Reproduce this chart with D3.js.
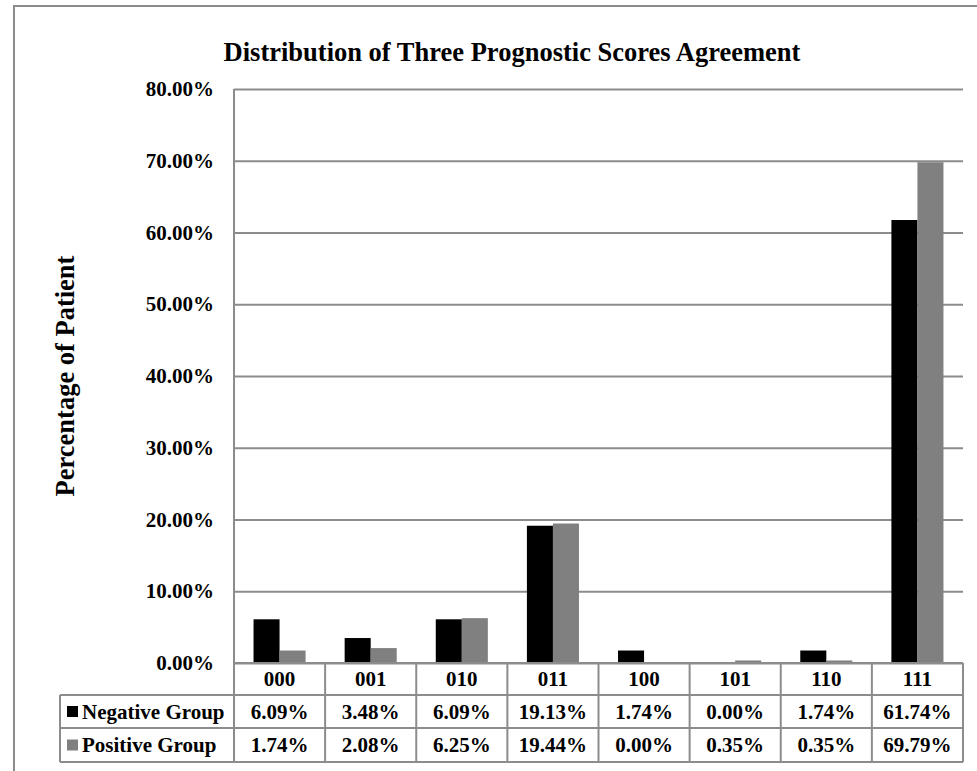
<!DOCTYPE html>
<html>
<head>
<meta charset="utf-8">
<script src="https://cdn.jsdelivr.net/npm/d3@7"></script>
<style>
  html, body { margin: 0; padding: 0; background: #fff; }
  svg text { font-family: "Liberation Serif", "Times New Roman", serif; font-weight: bold; fill: #000; }
</style>
</head>
<body>
<script>
// Score-agreement patterns (three prognostic scores, 0/1 each)
const categories = ["000", "001", "010", "011", "100", "101", "110", "111"];
// Percentage of patients per pattern
const negativeGroup = [6.09, 3.48, 6.09, 19.13, 1.74, 0.00, 1.74, 61.74];
const positiveGroup = [1.74, 2.08, 6.25, 19.44, 0.00, 0.35, 0.35, 69.79];
const seriesNames = ["Negative Group", "Positive Group"];
const yTicks = [0, 10, 20, 30, 40, 50, 60, 70, 80];

const W = 977, H = 771;
const colors = ["#000000", "#808080"];
const lineColor = "#8c8c8c";

const svg = d3.select("body").append("svg")
  .attr("width", W).attr("height", H);

// outer chart frame
svg.append("path")
  .attr("d", "M14,771 V6 H977")
  .attr("fill", "none").attr("stroke", lineColor).attr("stroke-width", 2);

const plot = { left: 234, right: 963, top: 89, bottom: 663 };

const x = d3.scaleBand().domain(categories).range([plot.left, plot.right]);
const y = d3.scaleLinear().domain([0, 80]).range([plot.bottom, plot.top]);

// title
svg.append("text")
  .attr("x", 512).attr("y", 61)
  .attr("text-anchor", "middle")
  .style("font-size", "26.5px")
  .text("Distribution of Three Prognostic Scores Agreement");

// y axis title
svg.append("text")
  .attr("transform", "translate(74,376) rotate(-90)")
  .attr("text-anchor", "middle")
  .style("font-size", "26.5px")
  .text("Percentage of Patient");

// gridlines + tick labels via a d3 axis
const yAxis = d3.axisLeft(y)
  .tickValues(yTicks)
  .tickSize(-(plot.right - plot.left))
  .tickPadding(20)
  .tickFormat(d => d.toFixed(2) + "%");

const gy = svg.append("g")
  .attr("transform", `translate(${plot.left},0)`)
  .call(yAxis);
gy.select(".domain").remove();
gy.selectAll(".tick line")
  .attr("stroke", lineColor).attr("stroke-width", 2);
gy.selectAll(".tick text")
  .style("font-size", "21px")
  .style("font-family", "'Liberation Serif', 'Times New Roman', serif")
  .style("font-weight", "bold")
  .attr("fill", "#000");

// bars
const barW = x.bandwidth() / 3.5;
const series = [negativeGroup, positiveGroup];
series.forEach((vals, si) => {
  svg.append("g").selectAll("rect")
    .data(categories.map((c, i) => ({ c, v: vals[i] })))
    .join("rect")
    .attr("x", d => x(d.c) + 0.75 * barW + si * barW)
    .attr("width", barW)
    .attr("y", d => y(d.v))
    .attr("height", d => y(0) - y(d.v))
    .attr("fill", colors[si]);
});

// data table beneath the plot
const rowH = [32, 33, 34];
const rowTop = [plot.bottom, plot.bottom + rowH[0], plot.bottom + rowH[0] + rowH[1]];
const tableBottom = rowTop[2] + rowH[2];
const legendLeft = 60;

const grid = svg.append("g")
  .attr("stroke", lineColor).attr("stroke-width", 2).attr("fill", "none");

// y axis line continuing down into the table
grid.append("line")
  .attr("x1", plot.left).attr("x2", plot.left)
  .attr("y1", plot.top).attr("y2", tableBottom);
// header row top (the zero line)
grid.append("line")
  .attr("x1", plot.left).attr("x2", plot.right)
  .attr("y1", plot.bottom).attr("y2", plot.bottom);
// series rows
[rowTop[1], rowTop[2], tableBottom].forEach(yy => {
  grid.append("line")
    .attr("x1", legendLeft).attr("x2", plot.right)
    .attr("y1", yy).attr("y2", yy);
});
grid.append("line")
  .attr("x1", legendLeft).attr("x2", legendLeft)
  .attr("y1", rowTop[1]).attr("y2", tableBottom);
// column separators
categories.forEach(c => {
  grid.append("line")
    .attr("x1", x(c) + x.bandwidth()).attr("x2", x(c) + x.bandwidth())
    .attr("y1", plot.bottom).attr("y2", tableBottom);
});

// category header labels
svg.append("g").selectAll("text")
  .data(categories)
  .join("text")
  .attr("x", d => x(d) + x.bandwidth() / 2)
  .attr("y", rowTop[0] + rowH[0] / 2)
  .attr("dy", "0.35em")
  .attr("text-anchor", "middle")
  .style("font-size", "21px")
  .text(d => d);

// series rows: legend key + values
series.forEach((vals, si) => {
  const cy = rowTop[si + 1] + rowH[si + 1] / 2;
  svg.append("rect")
    .attr("x", 67).attr("y", cy - 5.5)
    .attr("width", 11).attr("height", 11)
    .attr("fill", colors[si]);
  svg.append("text")
    .attr("x", 82).attr("y", cy)
    .attr("dy", "0.35em")
    .style("font-size", "21px")
    .text(seriesNames[si]);
  svg.append("g").selectAll("text")
    .data(categories.map((c, i) => ({ c, v: vals[i] })))
    .join("text")
    .attr("x", d => x(d.c) + x.bandwidth() / 2)
    .attr("y", cy)
    .attr("dy", "0.35em")
    .attr("text-anchor", "middle")
    .style("font-size", "21px")
    .text(d => d.v.toFixed(2) + "%");
});
</script>
</body>
</html>
